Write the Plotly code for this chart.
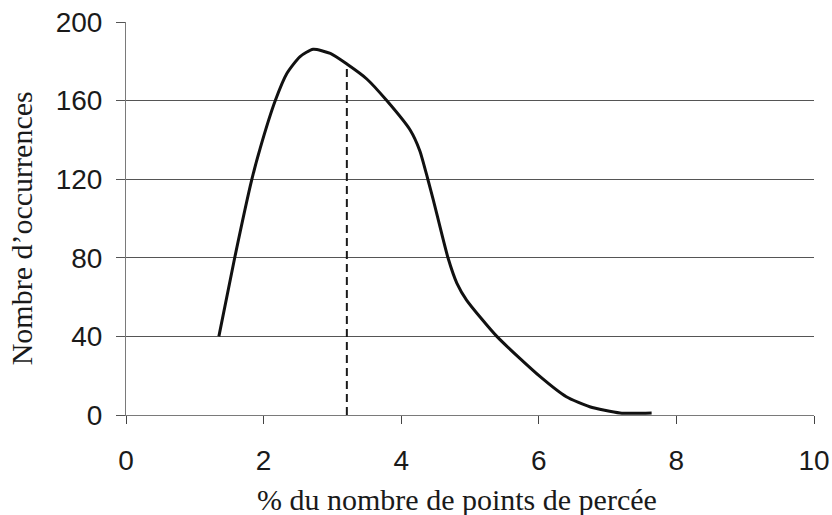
import plotly.graph_objects as go

# Data
pct_points = [1.35, 1.58, 1.83, 1.95, 2.17, 2.34, 2.53, 2.72, 2.97, 3.21, 3.50, 3.79,
              4.13, 4.27, 4.39, 4.47, 4.68, 4.81, 4.95, 5.39, 6.02, 6.40, 6.74, 7.18, 7.64]
occurrences = [40, 80, 120, 135.7, 160, 173.9, 182.4, 186.1, 184, 178.6, 171, 160,
               145, 134.5, 119.6, 109, 80, 67, 58.5, 40, 19.5, 9.3, 4.2, 1, 1]

median_x = [3.21, 3.21]
median_y = [0, 178.6]

x_ticks = [0, 2, 4, 6, 8, 10]
y_ticks = [0, 40, 80, 120, 160, 200]

x_title = "% du nombre de points de percée"
y_title = "Nombre d’occurrences"

fig = go.Figure()

fig.add_trace(go.Scatter(
    x=median_x, y=median_y, mode="lines",
    line=dict(color="#1a1a1a", width=2, dash="8px,5px"),
    showlegend=False, hoverinfo="skip",
))

fig.add_trace(go.Scatter(
    x=pct_points, y=occurrences, mode="lines",
    line=dict(color="#111111", width=3, shape="spline", smoothing=0.6),
    showlegend=False,
))

tick_font = dict(family="Liberation Sans, Arial, sans-serif", size=28, color="#1a1a1a")
title_font = dict(family="Liberation Serif, Times New Roman, serif", size=30, color="#1a1a1a")

fig.update_xaxes(
    range=[0, 10], tickvals=x_ticks, ticktext=[str(v) for v in x_ticks],
    showgrid=False, zeroline=False, automargin=False,
    showline=True, linecolor="#7a7a7a", linewidth=1,
    ticks="outside", ticklen=8, tickcolor="#444444", tickwidth=1,
    tickfont=tick_font, ticklabelstandoff=12,
)
fig.update_yaxes(
    range=[0, 200], tickvals=y_ticks, ticktext=[str(v) for v in y_ticks],
    showgrid=True, gridcolor="#555555", gridwidth=1, zeroline=False, automargin=False,
    showline=True, linecolor="#7a7a7a", linewidth=1,
    ticks="outside", ticklen=9, tickcolor="#555555", tickwidth=1,
    tickfont=tick_font, ticklabelstandoff=8,
)

fig.add_annotation(
    text=x_title, xref="paper", yref="paper", x=0.4804, y=-0.216,
    xanchor="center", yanchor="middle", showarrow=False, font=title_font,
)
fig.add_annotation(
    text=y_title, xref="paper", yref="paper", x=-0.1506, y=0.476,
    xanchor="center", yanchor="middle", textangle=-90, showarrow=False, font=title_font,
)

fig.update_layout(
    width=832, height=515,
    margin=dict(l=125.7, r=17.7, t=22, b=100, autoexpand=False),
    paper_bgcolor="white", plot_bgcolor="white",
)

fig.write_html(
    "out.html",
    config={"displayModeBar": False},
    post_script="document.body.style.margin='0';document.body.style.overflow='hidden';",
)
